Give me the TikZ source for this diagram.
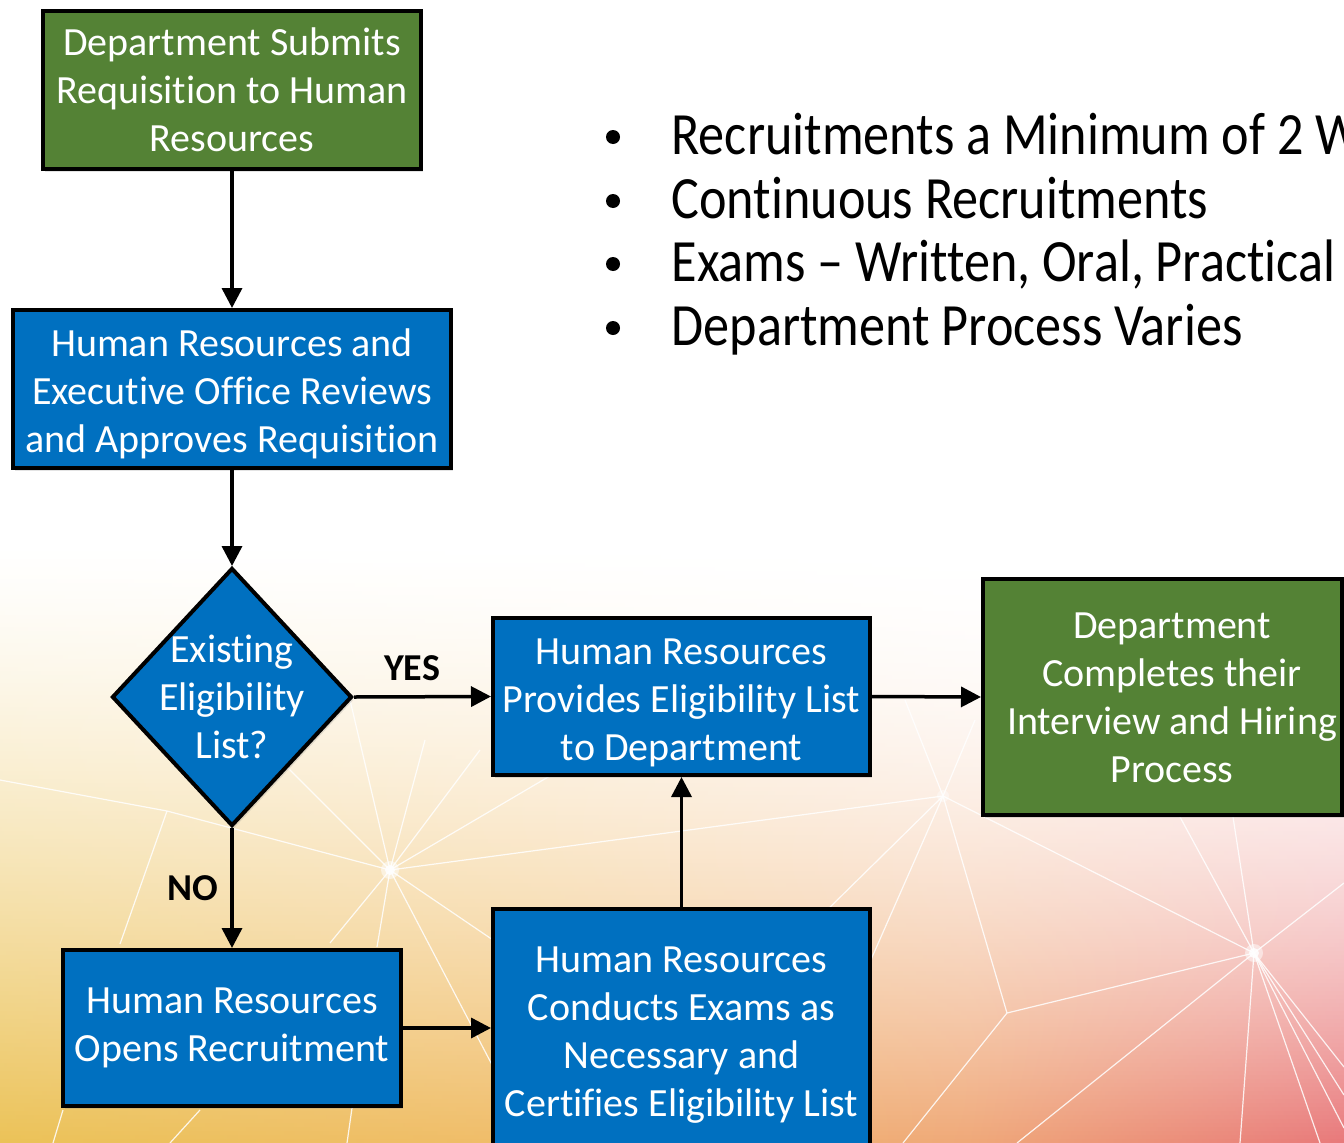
\documentclass[tikz,border=0pt]{standalone}
\usepackage{fontspec}
\setmainfont[Ligatures=NoCommon]{Carlito}
\newfontfamily\bulletfont[FakeStretch=0.87,Ligatures={TeX,NoCommon}]{Carlito}
\usetikzlibrary{arrows.meta,shapes.geometric,shadows}

\definecolor{boxgreen}{HTML}{548235}
\definecolor{boxblue}{HTML}{0070C0}
\definecolor{warmA}{HTML}{EBC257}
\definecolor{warmB}{HTML}{F0BC6A}
\definecolor{warmC}{HTML}{EFA878}
\definecolor{warmD}{HTML}{E8787A}

\tikzset{
  boxshadow/.style={drop shadow={opacity=0.22, shadow xshift=2pt, shadow yshift=-3pt}},
  flow/.style={draw=black, line width=4pt, text=white, align=center,
    font=\fontsize{40}{48}\selectfont, inner sep=0pt, boxshadow},
  greenbox/.style={flow, fill=boxgreen},
  bluebox/.style={flow, fill=boxblue},
  boxtext/.style={text=white, align=center, font=\fontsize{40}{48}\selectfont, inner sep=0pt},
  conn/.style={line width=3.5pt, -{Triangle[length=20pt,width=20pt]}},
  branch/.style={font=\bfseries\fontsize{38}{44}\selectfont, text=black},
  bullettext/.style={anchor=base west, font=\bulletfont\fontsize{60}{63}\selectfont, text=black},
  net/.style={white, line width=1.2pt, opacity=0.85},
}

\begin{document}
\begin{tikzpicture}[x=1pt, y=-1pt]
\useasboundingbox (0,0) rectangle (1344,1143);
\clip (0,0) rectangle (1344,1143);

% background: white above, warm gradient rising from the bottom
% (a band shading spans 25bp..75bp across the filled path)
\fill[white] (0,0) rectangle (1344,1143);
\foreach \y in {544,548,...,1140} {
  \pgfmathsetmacro\f{(\y-540)/603}
  \pgfmathsetmacro\pA{100*\f^1.35}
  \pgfmathsetmacro\pB{100*\f^1.5}
  \pgfmathsetmacro\pC{100*\f^1.9}
  \pgfmathsetmacro\pD{100*\f^2.2}
  \colorlet{sA}{warmA!\pA!white}
  \colorlet{sB}{warmB!\pB!white}
  \colorlet{sC}{warmC!\pC!white}
  \colorlet{sD}{warmD!\pD!white}
  \pgfdeclarehorizontalshading{band\y}{100bp}
    {color(0bp)=(sA); color(25bp)=(sA); color(45bp)=(sB); color(61bp)=(sC);
     color(75bp)=(sD); color(100bp)=(sD)}
  \shade[shading=band\y] (0,\y-1) rectangle (1344,\y+4);
}

% network of thin white lines
\coordinate (hA) at (390,870);
\coordinate (hB) at (1254,953);
\coordinate (hC) at (943,796);
\coordinate (vD) at (1007,1013);
\coordinate (vE) at (167,811);
\begin{scope}[net]
  \draw (hA) -- (vE) -- (0,780);
  \draw (vE) -- (120,944);
  \draw (hA) -- (250,730);
  \draw (hA) -- (350,700);
  \draw (hA) -- (425,740);
  \draw (hA) -- (480,750);
  \draw (hA) -- (hC);
  \draw (hA) -- (560,770);
  \draw (hA) -- (330,943);
  \draw (hA) -- (377,947);
  \draw (hA) -- (493,940);
  \draw (hA) -- (500,1080);
  \draw (hC) -- (700,1035);
  \draw (hC) -- (840,1030);
  \draw (hC) -- (vD);
  \draw (hC) -- (905,700);
  \draw (hC) -- (975,720);
  \draw (hB) -- (hC);
  \draw (hB) -- (1180,817);
  \draw (hB) -- (1233,817);
  \draw (hB) -- (1344,883);
  \draw (hB) -- (vD) -- (903,1143);
  \draw (hB) -- (1017,1143);
  \draw (hB) -- (1240,1143);
  \draw (hB) -- (1320,1143);
  \draw (hB) -- (1344,1067);
  \draw (hB) -- (1344,1095);
  \draw (hB) -- (1344,1128);
  \draw (53,1143) -- (63,1110);
  \draw (170,1143) -- (200,1110);
  \draw (347,1143) -- (352,1108);
  \fill[white, opacity=0.5] (hA) circle (9pt);
  \fill[white] (hA) circle (5pt);
  \fill[white, opacity=0.5] (hB) circle (9pt);
  \fill[white] (hB) circle (5pt);
  \fill[white, opacity=0.4] (hC) circle (6pt);
\end{scope}

% flowchart steps
\node[greenbox, minimum width=378pt, minimum height=158pt] (submit) at (232,90)
  {Department Submits\\Requisition to Human\\Resources};
\node[bluebox, minimum width=438pt, minimum height=158pt] (review) at (232,389)
  {\rule{0pt}{38pt}Human Resources and\\Executive Office Reviews\\and Approves Requisition};
\node[diamond, draw=black, line width=4pt, fill=boxblue, inner sep=0pt,
  minimum width=240pt, minimum height=258pt, boxshadow] (decide) at (232,697) {};
\node[boxtext] (decidetext) at (decide.center)
  {Existing\\Eligibility\\List?};
\node[bluebox, minimum width=377pt, minimum height=157pt] (provide) at (681.5,696.5)
  {\rule{0pt}{38pt}Human Resources\\Provides Eligibility List\\to Department};
\node[greenbox, minimum width=359pt, minimum height=236pt] (hire) at (1162.5,697) {};
\node[boxtext] (hiretext) at (1172,698)
  {Department\\Completes their\\Interview and Hiring\\Process};
\node[bluebox, minimum width=338pt, minimum height=156pt] (open) at (232,1028)
  {Human Resources\\Opens Recruitment};
\node[bluebox, minimum width=377pt, minimum height=240pt] (exam) at (681.5,1029)
  {\rule{0pt}{38pt}Human Resources\\Conducts Exams as\\Necessary and\\Certifies Eligibility List};

% connectors
\draw[conn] (submit.south) -- (review.north);
\draw[conn] (review.south) -- (decide.north);
\draw[conn] (decide.east) -- (provide.west);
\draw[conn] (decide.south) -- (open.north);
\draw[conn] (provide.east) -- (hire.west);
\draw[conn] (open.east) -- (open.east -| exam.west);
\draw[conn] (exam.north) -- (provide.south);

\node[branch] (yes) at (412,668) {YES};
\node[branch] (no) at (193,888) {NO};

% notes
\foreach \i/\t/\yb in {1/{Recruitments a Minimum of 2 W}/154,
                       2/{Continuous Recruitments}/218,
                       3/{Exams – Written, Oral, Practical}/281,
                       4/{Department Process Varies}/345} {
  \fill[black] (613,\yb-17) circle (7pt);
  \node[bullettext] (note\i) at (668,\yb) {\t};
}
\end{tikzpicture}
\end{document}
